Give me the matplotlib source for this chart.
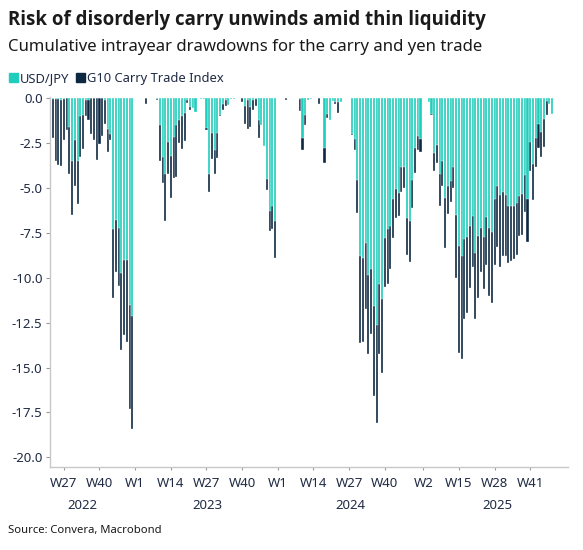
import numpy as np
import matplotlib
matplotlib.use("Agg")
import matplotlib.pyplot as plt
from matplotlib.patches import Patch

plt.rcParams['font.family'] = ['Noto Sans', 'DejaVu Sans']

# weekly cumulative intrayear drawdowns (%), W22 2022 .. W49 2025
usdjpy = [
    0, -0.05, -0.05, -0.05, -0.1, -0.05, 0, -1.6, -3.5, -2.3,
    -3.5, -1.0, -0.9, -0.1, -0.1, 0, 0, 0, 0, 0,
    -0.1, -1.7, -2.0, -7.3, -6.8, -7.2, -9.75, -9.0, -9.0, -11.5,
    -12.1,
    # 2023
    0, 0, 0, 0, 0, 0, 0, 0, -0.05, -1.5,
    -3.25, -4.2, -2.45, -3.2, -2.15, -1.5, -1.2, -1.0, -0.8, -0.1,
    -0.5, -0.55, -0.75, 0, -0.05, -0.05, -1.65, -4.2, -1.95, -2.9,
    -1.9, -0.9, -0.3, -0.1, -0.35, -0.05, -0.05, 0, 0, 0,
    -0.4, -0.1, -0.5, -0.1, -0.05, -1.2, -1.5, -2.65, -4.5, -6.3,
    -6.0, -6.85,
    # 2024
    0, 0, 0, 0, 0, 0, 0, 0, -0.05, -2.2,
    -0.95, -0.1, -0.05, 0, 0, 0, 0, -2.75, -0.85, -1.2,
    -0.15, -0.2, -0.2, -0.2, 0, 0, 0, -2.0, -2.27, -4.55,
    -8.8, -8.9, -8.05, -9.85, -9.5, -11.55, -12.65, -10.35, -11.2, -7.8,
    -7.3, -7.1, -5.6, -5.05, -5.25, -3.8, -3.85, -6.65, -6.85, -4.55,
    -2.75, -2.1, -2.27,
    # 2025
    0, 0, -0.22, -0.85, -3.05, -2.6, -4.2, -3.5, -5.55, -4.9,
    -4.6, -3.8, -6.5, -8.2, -8.8, -7.85, -7.75, -7.1, -6.55, -8.6,
    -7.65, -7.2, -7.7, -6.6, -7.25, -7.45, -5.6, -4.9, -5.4, -5.2,
    -5.4, -6.0, -6.0, -6.0, -5.85, -5.45, -5.3, -4.25, -5.6, -2.45,
    -3.65, -2.2, -1.4, -1.85, -1.15, -0.15, -0.3, -0.85,
]
g10_carry = [
    -2.75, -2.2, -3.5, -3.7, -3.75, -2.3, -1.75, -4.2, -6.5, -4.9,
    -5.9, -3.25, -2.8, -1.0, -1.2, -2.0, -2.3, -3.45, -2.55, -2.1,
    -1.4, -3.0, -2.3, -11.1, -9.7, -10.45, -14.0, -13.2, -13.6, -17.3,
    -18.4,
    # 2023
    0, 0, 0, 0, -0.3, 0, 0, 0, -0.1, -3.5,
    -4.7, -6.85, -4.2, -5.55, -4.45, -4.4, -2.5, -2.8, -2.4, -0.25,
    -0.65, -0.3, -0.1, 0, -0.05, 0, -1.75, -5.2, -3.4, -4.2,
    -3.3, -1.0, -0.65, -0.45, -0.1, 0, 0, 0, 0, -0.2,
    -1.4, -1.7, -1.6, -0.65, -0.45, -2.2, -1.4, -2.0, -5.1, -7.4,
    -7.3, -8.9,
    # 2024
    0, 0, 0, -0.1, 0, 0, 0, 0, -0.7, -2.9,
    -1.5, -0.05, 0, 0, 0, -0.3, 0, -3.6, -1.1, -0.5,
    -0.1, -0.3, -0.8, -0.1, 0, 0, 0, -2.05, -2.85, -6.4,
    -13.65, -13.55, -11.75, -14.25, -13.15, -16.6, -18.1, -14.25, -15.3, -10.5,
    -10.35, -9.5, -7.8, -6.65, -6.55, -5.2, -5.0, -8.7, -9.1, -6.1,
    -4.15, -2.85, -3.0,
    # 2025
    0, 0, 0, -0.9, -4.05, -3.6, -6.0, -4.9, -8.35, -6.45,
    -5.75, -5.0, -10.0, -14.2, -14.5, -12.3, -11.95, -10.55, -9.4, -12.3,
    -11.1, -9.7, -10.6, -9.3, -11.0, -11.4, -9.3, -8.3, -9.4, -8.8,
    -8.8, -9.15, -9.05, -8.95, -8.7, -7.65, -7.6, -6.35, -8.0, -4.05,
    -5.65, -3.85, -2.75, -3.25, -2.7, -0.9, 0, 0,
]

tick_pos = [5, 18, 31, 44, 57, 70, 83, 96, 109, 122, 136, 149, 162, 175]
tick_labels = ['W27', 'W40', 'W1', 'W14', 'W27', 'W40', 'W1', 'W14',
               'W27', 'W40', 'W2', 'W15', 'W28', 'W41']
year_boundaries = [31, 83, 136]
years = ['2022', '2023', '2024', '2025']
year_pos = [11.7, 57.5, 109.5, 163]

teal = '#1ECDBB'
navy = '#0E2841'
txt = '#1F2A44'

x = np.arange(len(usdjpy))

fig = plt.figure(figsize=(5.83, 5.5), dpi=100)
ax = fig.add_axes([0.085, 0.151, 0.889, 0.673])

ax.bar(x, g10_carry, width=0.75, color=navy, edgecolor='white', linewidth=0.25, zorder=2)
ax.bar(x, usdjpy, width=0.75, color=teal, edgecolor='white', linewidth=0.25, zorder=3)

ax.set_xlim(-0.2, 188.7)
ax.set_ylim(-20.54, 0.09)
ax.set_yticks(np.arange(0, -20.1, -2.5))
ax.set_yticklabels([f'{v:.1f}' for v in np.arange(0, -20.1, -2.5)])

ax.set_xticks(tick_pos)
ax.set_xticklabels(tick_labels)
ax.set_xticks(year_boundaries, minor=True)
ax.tick_params(axis='x', which='major', length=2, width=0.8, color='#9a9a9a',
               labelsize=9.5, labelcolor=txt, pad=5)
ax.tick_params(axis='x', which='minor', length=5, width=0.8, color='#9a9a9a')
ax.tick_params(axis='y', length=3, width=0.8, color='#9a9a9a', labelsize=9.5,
               labelcolor=txt, pad=2)

for s in ['top', 'right']:
    ax.spines[s].set_visible(False)
for s in ['left', 'bottom']:
    ax.spines[s].set_color('#c8c8c8')
    ax.spines[s].set_linewidth(1.0)

for yr, p in zip(years, year_pos):
    ax.text(p, -0.105, yr, transform=ax.get_xaxis_transform(), ha='center', va='center',
            fontsize=9.5, color=txt)

fig.text(0.014, 0.963, 'Risk of disorderly carry unwinds amid thin liquidity',
         fontsize=13.45, fontweight='bold', family=['Open Sans', 'DejaVu Sans'],
         color='#1a1a1a', va='center')
fig.text(0.014, 0.915, 'Cumulative intrayear drawdowns for the carry and yen trade',
         fontsize=12.05, color='#1a1a1a', va='center')
fig.text(0.014, 0.036, 'Source: Convera, Macrobond', fontsize=8.1, color='#1a1a1a', va='center')

handles = [Patch(color=teal, label='USD/JPY'), Patch(color=navy, label='G10 Carry Trade Index')]
fig.legend(handles=handles, loc='center left', bbox_to_anchor=(0.0, 0.858), ncol=2,
           frameon=False, fontsize=9.3, handlelength=0.7, handleheight=0.7,
           handletextpad=0.15, columnspacing=0.5, labelcolor=txt, borderaxespad=0.3)

fig.savefig('out.png', dpi=100)
